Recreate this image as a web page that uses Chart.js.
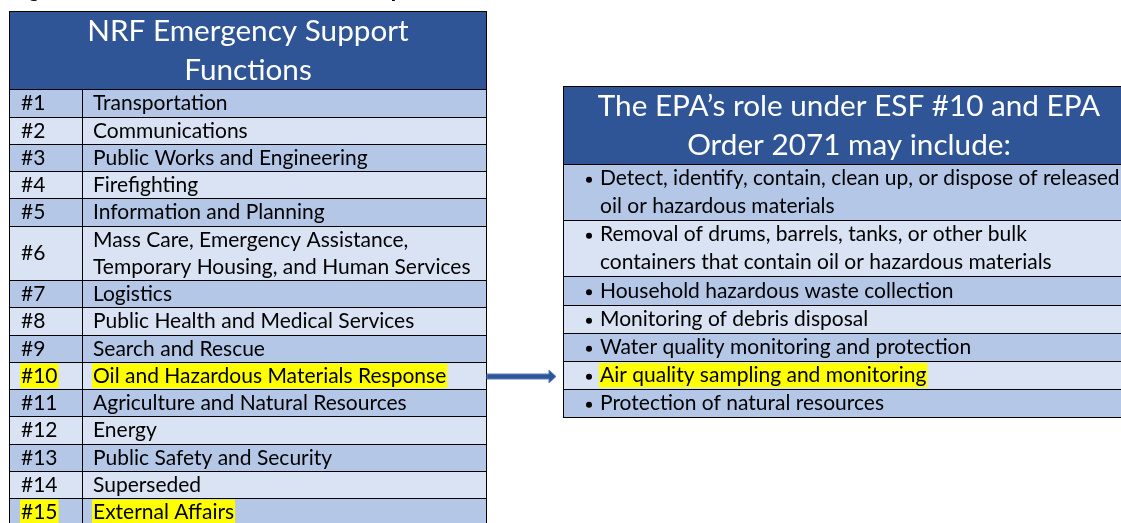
<!DOCTYPE html>
<html>
<head>
<meta charset="utf-8">
<title>NRF Emergency Support Functions</title>
<script src="https://cdn.jsdelivr.net/npm/chart.js@4.4.1/dist/chart.umd.min.js"></script>
<style>
  html, body { margin: 0; padding: 0; background: #fff; }
  canvas { display: block; }
</style>
</head>
<body>
<canvas id="esfChart" width="1121" height="523"></canvas>
<script>
const figureCaption = "Figure 1: ESFs under the National Response Framework";

const esfHeading = ["NRF Emergency Support", "Functions"];
const esfNumbers = ["#1", "#2", "#3", "#4", "#5", "#6", "#7", "#8", "#9", "#10", "#11", "#12", "#13", "#14", "#15"];
const esfNames = [
  "Transportation",
  "Communications",
  "Public Works and Engineering",
  "Firefighting",
  "Information and Planning",
  ["Mass Care, Emergency Assistance,", "Temporary Housing, and Human Services"],
  "Logistics",
  "Public Health and Medical Services",
  "Search and Rescue",
  "Oil and Hazardous Materials Response",
  "Agriculture and Natural Resources",
  "Energy",
  "Public Safety and Security",
  "Superseded",
  "External Affairs",
];
const highlightedEsf = ["#10", "#15"];
const linkedEsf = "#10";

const epaHeading = ["The EPA\u2019s role under ESF #10 and EPA", "Order 2071 may include:"];
const epaRoles = [
  ["Detect, identify, contain, clean up, or dispose of released", "oil or hazardous materials"],
  ["Removal of drums, barrels, tanks, or other bulk", "containers that contain oil or hazardous materials"],
  "Household hazardous waste collection",
  "Monitoring of debris disposal",
  "Water quality monitoring and protection",
  "Air quality sampling and monitoring",
  "Protection of natural resources",
];
const highlightedRoles = ["Air quality sampling and monitoring"];

// layout (pixels on the 1121 x 523 page)
const leftTable = { left: 9, split: 82, right: 486, top: 11, headBottom: 89.3, lineH: 27.25 };
const rightTable = { left: 563, right: 1134, top: 86, headBottom: 163.5, lineH: 28.2 };
const colors = { head: "#2F5597", dark: "#B4C7E7", light: "#DAE3F3", mark: "#FFFF00", line: "#000000", arrow: "#2F5597" };

function rowBounds(items, start, lineH) {
  let cum = 0;
  return items.map(item => {
    const top = Math.round(start + cum * lineH);
    cum += [].concat(item).length;
    return [top, Math.round(start + cum * lineH)];
  });
}

function column(label, left, right, bounds, fills, extra) {
  return Object.assign({
    type: "bar",
    label: label,
    data: bounds.map(b => ({ x: (left + right + 1) / 2, y: [b[0], b[1] + 1] })),
    barThickness: right - left + 1,
    grouped: false,
    backgroundColor: fills,
    borderColor: colors.line,
    borderWidth: 1,
    borderSkipped: false,
    inflateAmount: 0,
  }, extra);
}

const stripe = (n) => Array.from({ length: n }, (_, i) => (i % 2 === 0 ? colors.dark : colors.light));

const esfBounds = rowBounds(esfNames, leftTable.headBottom, leftTable.lineH);
const roleBounds = rowBounds(epaRoles, rightTable.headBottom, rightTable.lineH);

const datasets = [
  column("esfHead", leftTable.left, leftTable.right,
    [[leftTable.top, Math.round(leftTable.headBottom)]], [colors.head],
    { cellText: [esfHeading], textFont: "head", textAlign: "center", textColor: "#fff" }),
  column("esfNumber", leftTable.left, leftTable.split, esfBounds, stripe(esfNumbers.length),
    { cellText: esfNumbers, textFont: "body", textInset: 12, textColor: "#000",
      marked: esfNumbers.map(n => highlightedEsf.includes(n)) }),
  column("esfName", leftTable.split, leftTable.right, esfBounds, stripe(esfNames.length),
    { cellText: esfNames, textFont: "body", textInset: 11, textColor: "#000",
      marked: esfNumbers.map(n => highlightedEsf.includes(n)) }),
  column("epaHead", rightTable.left, rightTable.right,
    [[rightTable.top, Math.round(rightTable.headBottom)]], [colors.head],
    { cellText: [epaHeading], textFont: "head", textAlign: "center", textColor: "#fff" }),
  column("epaRole", rightTable.left, rightTable.right, roleBounds, stripe(epaRoles.length),
    { cellText: epaRoles, textFont: "body", textInset: 37, bulletInset: 26, textColor: "#000",
      marked: epaRoles.map(r => highlightedRoles.includes([].concat(r)[0])) }),
];

function fitFont(ctx, family, weight, samples) {
  const sizes = samples.map(([text, width]) => {
    ctx.font = `${weight} 100px ${family}`;
    return width * 100 / ctx.measureText(text).width;
  });
  const size = sizes.reduce((a, b) => a + b, 0) / sizes.length;
  return { size: size, css: `${weight} ${size.toFixed(2)}px ${family}` };
}

const tablePainter = {
  id: "tablePainter",
  afterDatasetsDraw(chart) {
    const ctx = chart.ctx;
    const xs = chart.scales.x, ys = chart.scales.y;
    const fonts = {
      head: fitFont(ctx, "Lato", "normal", [["NRF Emergency Support", 321], [epaHeading[0], 503]]),
      body: fitFont(ctx, "Lato", "normal", [["Temporary Housing, and Human Services", 375], ["containers that contain oil or hazardous materials", 455]]),
    };
    ctx.save();
    ctx.textBaseline = "alphabetic";
    ctx.textAlign = "left";

    chart.data.datasets.forEach((ds, di) => {
      const f = fonts[ds.textFont];
      chart.getDatasetMeta(di).data.forEach((bar, i) => {
        const p = bar.getProps(["x", "y", "base", "width"], true);
        const top = Math.min(p.y, p.base), bottom = Math.max(p.y, p.base) - 1;
        const left = p.x - p.width / 2;
        const lines = [].concat(ds.cellText[i]);
        const step = (bottom - top) / lines.length;
        ctx.font = f.css;
        lines.forEach((line, k) => {
          const mid = top + step * (k + 0.5);
          const base = mid + f.size * 0.35;
          const w = ctx.measureText(line).width;
          const tx = ds.textAlign === "center" ? p.x - w / 2 : left + ds.textInset;
          if (ds.marked && ds.marked[i]) {
            ctx.fillStyle = colors.mark;
            ctx.fillRect(tx - 1, mid - 12, w + 2, 24.5);
          }
          ctx.fillStyle = ds.textColor;
          ctx.fillText(line, tx, base);
          if (ds.bulletInset && k === 0) {
            ctx.beginPath();
            ctx.arc(left + ds.bulletInset, base - f.size * 0.27, 3, 0, Math.PI * 2);
            ctx.fill();
          }
        });
      });
    });

    // arrow from the linked ESF row to the EPA table
    const numMeta = chart.getDatasetMeta(1);
    const rp = numMeta.data[esfNumbers.indexOf(linkedEsf)].getProps(["y", "base"], true);
    const ay = Math.round((rp.y + rp.base) / 2) + 0.5;
    const x0 = xs.getPixelForValue(leftTable.right + 1);
    const tip = xs.getPixelForValue(rightTable.left - 7);
    ctx.beginPath();
    ctx.moveTo(x0, ay - 2.5);
    ctx.lineTo(tip - 7, ay - 2.5);
    ctx.lineTo(tip - 7, ay - 6.5);
    ctx.lineTo(tip, ay);
    ctx.lineTo(tip - 7, ay + 6.5);
    ctx.lineTo(tip - 7, ay + 2.5);
    ctx.lineTo(x0, ay + 2.5);
    ctx.closePath();
    ctx.fillStyle = colors.arrow;
    ctx.fill();
    ctx.strokeStyle = "#5A7EBF";
    ctx.lineWidth = 1;
    ctx.stroke();

    // figure caption, almost entirely above the top of the page
    ctx.font = "bold 21px 'Liberation Sans'";
    ctx.fillStyle = "#000";
    ctx.fillText(figureCaption, xs.getPixelForValue(9), ys.getPixelForValue(-3));
    ctx.restore();
  },
};

const ctx = document.getElementById("esfChart").getContext("2d");

const esfChart = new Chart(ctx, {
  type: "bar",
  data: { datasets: datasets },
  options: {
    responsive: false,
    animation: false,
    events: [],
    layout: { padding: 0 },
    plugins: {
      legend: { display: false },
      tooltip: { enabled: false },
      title: { display: false },
    },
    scales: {
      x: { type: "linear", min: 0, max: 1121, display: false, offset: false },
      y: { type: "linear", min: 0, max: 523, reverse: true, display: false },
    },
  },
  plugins: [tablePainter],
});
</script>
</body>
</html>
